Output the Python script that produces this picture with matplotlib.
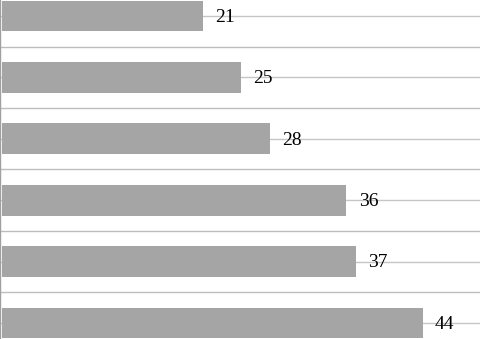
import matplotlib
matplotlib.use("Agg")
import matplotlib.pyplot as plt

# valores das barras (de cima para baixo)
categorias = ["A", "B", "C", "D", "E", "F"]
valores = [21, 25, 28, 36, 37, 44]

fig = plt.figure(figsize=(4.8, 3.39), dpi=100)
ax = fig.add_axes([0, 0, 1, 1])

pos = list(range(len(categorias)))

# linhas de grade horizontais (nas barras e entre elas)
for i in range(-1, 2 * len(categorias) + 1):
    y = i * 0.5
    cor = "#c6c6c6" if i % 2 == 0 else "#bdbdbd"
    ax.axhline(y, color=cor, lw=1.0, zorder=1)

ax.barh(pos, valores, height=0.5, color="#a5a5a5", zorder=2)

for p, v in zip(pos, valores):
    ax.text(v + 1.3, p + 0.02, str(v), va="center", ha="left",
            fontsize=14, family="Liberation Serif", color="black",
            zorder=3)

ax.set_xlim(-0.21, 50)
ax.set_ylim(5.26, -0.26)
ax.set_xticks([])
ax.set_yticks([])
for s in ["top", "right", "bottom"]:
    ax.spines[s].set_visible(False)
ax.spines["left"].set_color("#a0a0a0")
ax.spines["left"].set_linewidth(1.0)

plt.savefig("out.png", dpi=100)
